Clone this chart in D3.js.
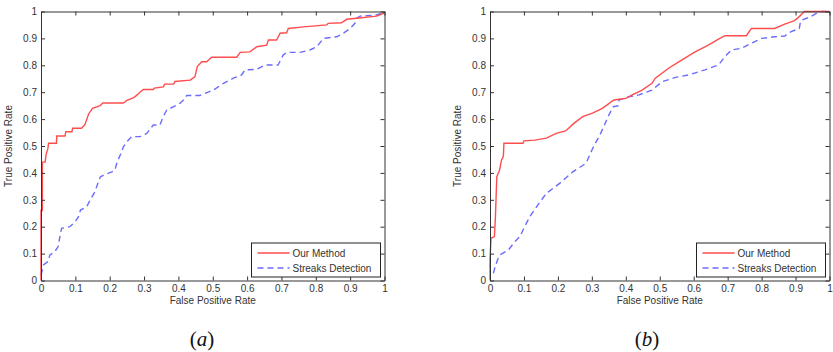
<!DOCTYPE html>
<html>
<head>
<meta charset="utf-8">
<script src="https://cdn.jsdelivr.net/npm/d3@7"></script>
<style>
  body { margin: 0; background: #fff; }
  svg text { font-family: "Liberation Sans", Arial, sans-serif; }
</style>
</head>
<body>
<svg id="chart" width="833" height="352"></svg>
<script>
// ROC data: [false positive rate, true positive rate]
const oursA = [[0,0],[0,0.26],[0.004,0.26],[0.004,0.44],[0.012,0.44],[0.015,0.47],[0.02,0.49],[0.022,0.51],[0.045,0.51],[0.046,0.537],[0.07,0.537],[0.072,0.553],[0.09,0.553],[0.092,0.566],[0.118,0.566],[0.128,0.58],[0.139,0.62],[0.15,0.64],[0.172,0.65],[0.18,0.66],[0.24,0.66],[0.25,0.67],[0.27,0.68],[0.28,0.69],[0.288,0.70],[0.298,0.71],[0.327,0.71],[0.33,0.715],[0.356,0.72],[0.36,0.73],[0.386,0.73],[0.39,0.74],[0.434,0.745],[0.448,0.757],[0.455,0.795],[0.468,0.813],[0.482,0.813],[0.497,0.83],[0.57,0.83],[0.58,0.848],[0.608,0.85],[0.628,0.869],[0.657,0.875],[0.662,0.894],[0.686,0.894],[0.696,0.919],[0.715,0.921],[0.72,0.937],[0.764,0.943],[0.832,0.95],[0.836,0.956],[0.875,0.958],[0.89,0.971],[0.919,0.975],[0.977,0.983],[0.997,0.993],[1,1]];
const streaksA = [[0,0.02],[0.004,0.04],[0.007,0.058],[0.02,0.07],[0.026,0.095],[0.04,0.107],[0.05,0.126],[0.055,0.163],[0.06,0.194],[0.084,0.2],[0.1,0.219],[0.109,0.237],[0.115,0.262],[0.133,0.274],[0.143,0.299],[0.157,0.33],[0.167,0.367],[0.173,0.386],[0.191,0.396],[0.206,0.404],[0.215,0.41],[0.222,0.442],[0.232,0.47],[0.24,0.497],[0.25,0.516],[0.264,0.535],[0.288,0.535],[0.308,0.547],[0.327,0.578],[0.346,0.578],[0.356,0.609],[0.366,0.634],[0.386,0.646],[0.405,0.659],[0.42,0.677],[0.424,0.688],[0.463,0.688],[0.502,0.708],[0.531,0.733],[0.56,0.752],[0.584,0.764],[0.594,0.783],[0.628,0.785],[0.652,0.801],[0.69,0.801],[0.705,0.838],[0.715,0.848],[0.754,0.848],[0.783,0.857],[0.803,0.869],[0.822,0.9],[0.861,0.906],[0.88,0.919],[0.9,0.937],[0.914,0.956],[0.919,0.975],[0.929,0.983],[0.977,0.987],[0.99,0.993],[1,1]];
const oursB = [[0,0],[0,0.08],[0.003,0.157],[0.013,0.163],[0.016,0.237],[0.02,0.386],[0.028,0.41],[0.034,0.448],[0.039,0.46],[0.04,0.479],[0.041,0.51],[0.097,0.51],[0.1,0.519],[0.132,0.522],[0.166,0.529],[0.195,0.547],[0.223,0.556],[0.247,0.584],[0.273,0.609],[0.302,0.622],[0.331,0.64],[0.365,0.671],[0.38,0.674],[0.4,0.677],[0.419,0.69],[0.448,0.708],[0.477,0.733],[0.487,0.752],[0.526,0.789],[0.556,0.813],[0.604,0.85],[0.643,0.875],[0.673,0.897],[0.692,0.91],[0.755,0.91],[0.77,0.937],[0.838,0.937],[0.868,0.953],[0.897,0.966],[0.911,0.981],[0.926,1],[1,1]];
const streaksB = [[0.01,0.027],[0.015,0.051],[0.024,0.083],[0.029,0.095],[0.054,0.113],[0.073,0.144],[0.088,0.163],[0.102,0.2],[0.117,0.237],[0.141,0.281],[0.166,0.324],[0.205,0.361],[0.244,0.404],[0.283,0.436],[0.302,0.49],[0.326,0.547],[0.35,0.615],[0.363,0.646],[0.377,0.649],[0.38,0.671],[0.409,0.683],[0.439,0.69],[0.477,0.708],[0.507,0.739],[0.546,0.755],[0.585,0.764],[0.633,0.783],[0.673,0.801],[0.692,0.832],[0.711,0.857],[0.741,0.863],[0.77,0.882],[0.8,0.9],[0.838,0.906],[0.868,0.909],[0.887,0.925],[0.911,0.937],[0.915,0.966],[0.945,0.981],[0.965,0.996],[0.975,1],[1,1]];

const tickValues = d3.range(0, 1.0001, 0.1);
const tickLabels = ["0","0.1","0.2","0.3","0.4","0.5","0.6","0.7","0.8","0.9","1"];
const seriesNames = ["Our Method", "Streaks Detection"];
const captionLetters = ["a", "b"];

const svg = d3.select("#chart");

const panels = [
  { left: 41, right: 384.5, ours: oursA, streaks: streaksA, capX: 202 },
  { left: 490, right: 829.5, ours: oursB, streaks: streaksB, capX: 647 }
];

const plotTop = 11.5, plotBottom = 280.5;
const fmt = (d, i) => tickLabels[i];

panels.forEach((p, k) => {
  const x = d3.scaleLinear().domain([0, 1]).range([p.left, p.right]);
  const y = d3.scaleLinear().domain([0, 1]).range([plotBottom, plotTop]);
  const g = svg.append("g");

  const line = d3.line().x(d => x(d[0])).y(d => y(d[1]));

  g.append("path").datum(p.streaks)
    .attr("fill", "none")
    .attr("stroke", "#6b6bff")
    .attr("stroke-width", 1.4)
    .attr("stroke-dasharray", "6,4")
    .attr("d", line);

  g.append("path").datum(p.ours)
    .attr("fill", "none")
    .attr("stroke", "#ff4d4d")
    .attr("stroke-width", 1.4)
    .attr("d", line);

  // axes, ticks pointing inward like matlab
  const axisStyle = sel => {
    sel.select(".domain").attr("stroke", "#333");
    sel.selectAll(".tick line").attr("stroke", "#333");
    sel.selectAll(".tick text").attr("fill", "#333").attr("font-size", 10)
      .attr("font-family", "Liberation Sans, Arial, sans-serif");
  };

  g.append("g").attr("transform", "translate(0," + plotBottom + ")")
    .call(d3.axisBottom(x).tickValues(tickValues).tickFormat(fmt).tickSizeInner(-4).tickSizeOuter(0).tickPadding(4))
    .call(axisStyle);
  g.append("g").attr("transform", "translate(" + p.left + ",0)")
    .call(d3.axisLeft(y).tickValues(tickValues).tickFormat(fmt).tickSizeInner(-4).tickSizeOuter(0).tickPadding(4))
    .call(axisStyle);
  g.append("g").attr("transform", "translate(0," + plotTop + ")")
    .call(d3.axisTop(x).tickValues(tickValues).tickFormat("").tickSizeInner(-4).tickSizeOuter(0))
    .call(axisStyle);
  g.append("g").attr("transform", "translate(" + p.right + ",0)")
    .call(d3.axisRight(y).tickValues(tickValues).tickFormat("").tickSizeInner(-4).tickSizeOuter(0))
    .call(axisStyle);

  // axis titles
  g.append("text")
    .attr("x", (p.left + p.right) / 2).attr("y", 304)
    .attr("text-anchor", "middle").attr("font-size", 10).attr("fill", "#333")
    .text("False Positive Rate");
  g.append("text")
    .attr("transform", "translate(" + (p.left - 29) + "," + ((plotTop + plotBottom) / 2) + ") rotate(-90)")
    .attr("text-anchor", "middle").attr("font-size", 10).attr("fill", "#333")
    .text("True Positive Rate");

  // legend
  const lg = g.append("g").attr("transform", "translate(" + (p.right - 133) + ",243)");
  lg.append("rect").attr("width", 129).attr("height", 34)
    .attr("fill", "#fff").attr("stroke", "#222").attr("stroke-width", 1);
  const styles = [{ c: "#ff4d4d", dash: null }, { c: "#6b6bff", dash: "6,4" }];
  seriesNames.forEach((name, i) => {
    const yy = 10 + i * 15;
    lg.append("line").attr("x1", 6).attr("x2", 38).attr("y1", yy).attr("y2", yy)
      .attr("stroke", styles[i].c).attr("stroke-width", 1.4)
      .attr("stroke-dasharray", styles[i].dash);
    lg.append("text").attr("x", 41).attr("y", yy + 3.5)
      .attr("font-size", 10).attr("fill", "#333").text(name);
  });

  // caption: upright parens, italic letter
  const cap = svg.append("text")
    .attr("x", p.capX).attr("y", 346)
    .attr("text-anchor", "middle")
    .attr("font-size", 21).attr("fill", "#111")
    .style("font-family", "'Liberation Serif', 'DejaVu Serif', serif");
  cap.append("tspan").text("(");
  cap.append("tspan").style("font-style", "italic").text(captionLetters[k]);
  cap.append("tspan").text(")");
});
</script>
</body>
</html>
